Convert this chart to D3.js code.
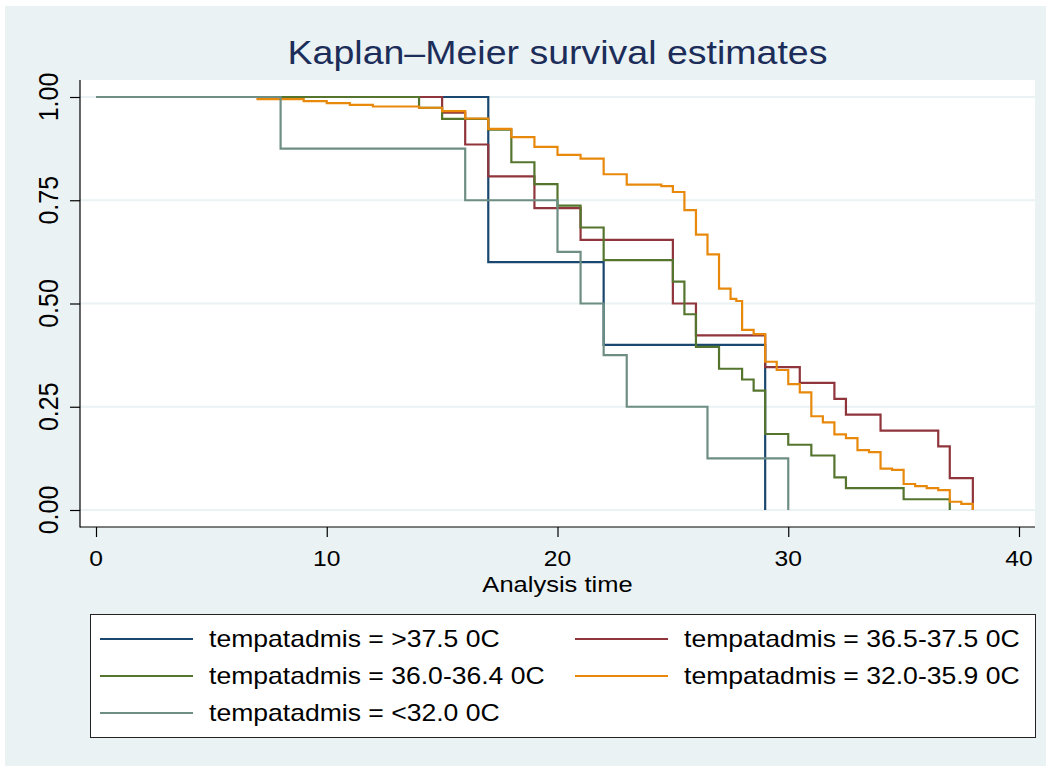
<!DOCTYPE html>
<html>
<head>
<meta charset="utf-8">
<script src="https://cdn.jsdelivr.net/npm/d3@7"></script>
<style>
  body { margin: 0; background: #fff; }
  svg { display: block; }
  text { font-family: "Liberation Sans", Arial, sans-serif; }
</style>
</head>
<body>
<svg id="km" width="1051" height="772"></svg>
<script>

// Data

var groupLabels = [">37.5 0C", "36.5-37.5 0C", "36.0-36.4 0C", "32.0-35.9 0C", "<32.0 0C"];
var groupColors = ["#1a476f", "#90353b", "#55752f", "#e8890c", "#6e8e84"];

var timeBlue = [0, 17, 22, 29];
var survBlue = [1, .6, .4, 0];

var timeRed = [0, 15, 16, 17, 19, 21, 25, 26, 29, 30.5, 32, 32.5, 34, 36.5, 37, 38];
var survRed = [1, .962, .885, .808, .731, .654, .5, .423, .346, .308, .269, .231, .192, .154, .077, 0];

var timeGreen = [0, 14, 15, 17, 18, 19, 20, 21, 22, 25, 25.5, 26, 27, 28, 28.5, 29, 30, 31, 32, 32.5, 35, 37];
var survGreen = [1, .974, .947, .921, .842, .789, .737, .684, .605, .553, .474, .395, .342, .316, .289, .184, .158, .132, .079, .053, .026, 0];

var timeOrange = [0, 7, 9, 10, 11, 12, 14, 15, 16, 17, 18, 19, 20, 21, 22, 23, 24.5, 25, 25.5, 26, 26.5, 27, 27.5, 27.75, 28, 28.5,
                  29, 29.5, 30, 30.5, 31, 31.5, 32, 32.5, 33, 33.5, 34, 34.5, 35, 35.5, 36, 36.5, 37, 37.5, 38];
var survOrange = [1, .995, .990, .985, .981, .977, .974, .966, .948, .923, .903, .879, .860, .851, .813, .788, .784, .770, .726, .667, .619, .536, .511, .506, .436, .426,
                  .359, .339, .305, .285, .227, .212, .183, .174, .145, .140, .100, .097, .063, .058, .053, .048, .020, .015, 0];

var timeGrey = [0, 8, 16, 20, 21, 22, 23, 26.5, 30];
var survGrey = [1, .875, .75, .625, .5, .375, .25, .125, 0];

var xTicks = [0, 10, 20, 30, 40];
var yTicks = [0, .25, .5, .75, 1];

var curves = [
	[timeBlue, survBlue],
	[timeRed, survRed],
	[timeGreen, survGreen],
	[timeOrange, survOrange],
	[timeGrey, survGrey]
];

// Layout

var svg = d3.select("svg#km");
var box = {left: 80, right: 1035, top: 80, bottom: 527};
var stretch = 1.12; // text in the picture is a bit wider than tall

var x = d3.scaleLinear().domain([0, 40]).range([96, 1019]);
var y = d3.scaleLinear().domain([0, 1]).range([510, 97]);

// outer region
svg.append("rect")
	.attr("x", 5).attr("y", 6)
	.attr("width", 1041).attr("height", 760)
	.attr("fill", "#eaf2f3");

svg.append("rect")
	.attr("x", box.left).attr("y", box.top)
	.attr("width", box.right - box.left).attr("height", box.bottom - box.top)
	.attr("fill", "#fff");

function stretchedText(g, tx, ty, str, size, anchor, fill, sx) {
	return g.append("text")
		.attr("transform", "translate(" + tx + "," + ty + ") scale(" + (sx || stretch) + ",1)")
		.attr("text-anchor", anchor)
		.attr("font-size", size + "px")
		.attr("fill", fill || "#000")
		.text(str);
}

// title
stretchedText(svg, (box.left + box.right) / 2, 64, "Kaplan\u2013Meier survival estimates", 33.5, "middle", "#1c2d5a");

// grid
svg.append("g")
	.selectAll("line")
	.data(yTicks)
	.enter().append("line")
	.attr("x1", box.left)
	.attr("x2", box.right)
	.attr("y1", function(d) { return y(d); })
	.attr("y2", function(d) { return y(d); })
	.attr("stroke", "#eaf2f3")
	.attr("stroke-width", 2);

// curves
var line = d3.line()
	.x(function(d) { return x(d[0]); })
	.y(function(d) { return y(d[1]); })
	.curve(d3.curveStepAfter);

svg.append("g")
	.selectAll("path")
	.data(curves)
	.enter().append("path")
	.attr("d", function(c) { return line(d3.zip(c[0], c[1])); })
	.attr("fill", "none")
	.attr("stroke", function(c, i) { return groupColors[i]; })
	.attr("stroke-width", 2.2);

// axes
var yAxis = svg.append("g")
	.attr("transform", "translate(" + box.left + ",0)")
	.call(d3.axisLeft(y).tickValues(yTicks).tickSizeInner(10).tickSizeOuter(0));
yAxis.select(".domain").remove();
yAxis.selectAll(".tick line").attr("stroke", "#000").attr("stroke-width", 1.2);
yAxis.selectAll(".tick text").remove();

yTicks.forEach(function(d) {
	svg.append("text")
		.attr("transform", "translate(58," + y(d) + ") scale(" + stretch + ",1) rotate(-90)")
		.attr("text-anchor", "middle")
		.attr("font-size", "25px")
		.attr("fill", "#000")
		.text(d3.format(".2f")(d));
});

var xAxis = svg.append("g")
	.attr("transform", "translate(0," + box.bottom + ")")
	.call(d3.axisBottom(x).tickValues(xTicks).tickSizeInner(10).tickSizeOuter(0));
xAxis.select(".domain").remove();
xAxis.selectAll(".tick line").attr("stroke", "#000").attr("stroke-width", 1.2);
xAxis.selectAll(".tick text").remove();

xTicks.forEach(function(d) {
	stretchedText(svg, x(d), 566, d, 22, "middle");
});

svg.append("line")
	.attr("x1", box.left).attr("x2", box.left)
	.attr("y1", box.top).attr("y2", box.bottom + 0.6)
	.attr("stroke", "#000").attr("stroke-width", 1.2);
svg.append("line")
	.attr("x1", box.left).attr("x2", box.right)
	.attr("y1", box.bottom).attr("y2", box.bottom)
	.attr("stroke", "#000").attr("stroke-width", 1.2);

stretchedText(svg, (box.left + box.right) / 2, 592, "Analysis time", 22, "middle", "#000", 1.16);

// legend
var legend = svg.append("g").attr("class", "legend");

legend.append("rect")
	.attr("x", 90.5).attr("y", 614.5)
	.attr("width", 945).attr("height", 123)
	.attr("fill", "#fff")
	.attr("stroke", "#222")
	.attr("stroke-width", 1);

var colX = [100, 575];
var rowY = [639, 676, 713];

groupLabels.forEach(function(lab, i) {
	var cx = colX[i % 2], cy = rowY[Math.floor(i / 2)];
	legend.append("line")
		.attr("x1", cx).attr("x2", cx + 93)
		.attr("y1", cy).attr("y2", cy)
		.attr("stroke", groupColors[i])
		.attr("stroke-width", 2);
	stretchedText(legend, cx + 109, cy + 8, "tempatadmis = " + lab, 23, "start", "#000", 1.155);
});

</script>
</body>
</html>
